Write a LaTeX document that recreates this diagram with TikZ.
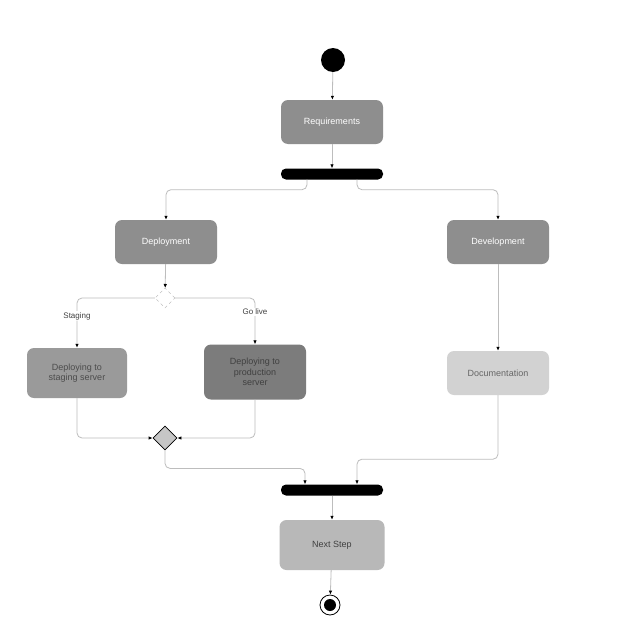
\documentclass[tikz,border=0pt]{standalone}
\usepackage{fontspec}
\setmainfont{Liberation Sans}
\usetikzlibrary{arrows.meta,shapes.geometric}
\definecolor{gA}{HTML}{8E8E8E}
\definecolor{gStg}{HTML}{9A9A9A}
\definecolor{gProd}{HTML}{7C7C7C}
\definecolor{gDoc}{HTML}{D2D2D2}
\definecolor{gNext}{HTML}{B8B8B8}
\definecolor{gLine}{HTML}{BDBDBD}
\begin{document}
\begin{tikzpicture}[x=1pt,y=-1pt,
  act/.style={rounded corners=7pt, minimum width=102pt, minimum height=44pt, align=center,
    font=\fontsize{9}{10.5}\selectfont, inner sep=2pt},
  bar/.style={fill=black, rounded corners=5pt, minimum width=102pt, minimum height=11pt, inner sep=0pt},
  edge/.style={draw=gLine, line width=0.8pt, rounded corners=5pt, -{Latex[length=4pt,width=3.5pt,color=black]}},
  lbl/.style={font=\fontsize{8}{9}\selectfont, text=black!75, fill=white, inner sep=1pt}
]
\useasboundingbox[fill=white] (0,0) rectangle (640,640);

\node[circle, fill=black, minimum size=24pt, inner sep=0pt] (start) at (333,60) {};
\node[act, fill=gA, text=white] (req) at (332,122) {Requirements};
\node[bar] (fork) at (332,174) {};
\node[act, fill=gA, text=white] (dep) at (166,242) {Deployment};
\node[act, fill=gA, text=white] (dev) at (498,242) {Development};
\node[diamond, draw=gray!60, dashed, fill=white, minimum size=20pt, inner sep=0pt] (dec) at (165,298) {};
\node[act, fill=gStg, text=black!70, minimum width=100pt, minimum height=50pt] (stg) at (77,373) {Deploying to\\staging server};
\node[act, fill=gProd, text=black!75, minimum width=102pt, minimum height=55pt] (prod) at (255,372) {Deploying to\\production\\server};
\node[act, fill=gDoc, text=black!60] (doc) at (498,373) {Documentation};
\node[diamond, draw=black, line width=0.8pt, fill=gray!45, minimum size=24pt, inner sep=0pt] (mrg) at (165,438) {};
\node[bar] (join) at (332,490) {};
\node[act, fill=gNext, text=black!75, minimum width=105pt, minimum height=50pt] (next) at (332,545) {Next Step};
\node[circle, draw=black, line width=0.8pt, fill=white, minimum size=20pt, inner sep=0pt] (end) at (330,605) {};
\fill[black] (end.center) circle (6pt);

\draw[edge] (start) -- (req);
\draw[edge] (req) -- (fork);
\draw[edge] ([xshift=-25pt]fork.south) -- ++(0,10) -| (dep.north);
\draw[edge] ([xshift=25pt]fork.south) -- ++(0,10) -| (dev.north);
\draw[edge] (dep) -- (dec);
\draw[edge] (dec.west) -| node[pos=0.68, lbl] {Staging} (stg.north);
\draw[edge] (dec.east) -| node[pos=0.65, lbl] {Go live} (prod.north);
\draw[edge] (dev) -- (doc);
\draw[edge] (stg.south) |- (mrg.west);
\draw[edge] (prod.south) |- (mrg.east);
\draw[edge] (mrg.south) -- ++(0,18) -| ([xshift=-27pt]join.north);
\draw[edge] (doc.south) -- ++(0,64) -| ([xshift=25pt]join.north);
\draw[edge] (join) -- (next);
\draw[edge] (next) -- (end);
\end{tikzpicture}
\end{document}
